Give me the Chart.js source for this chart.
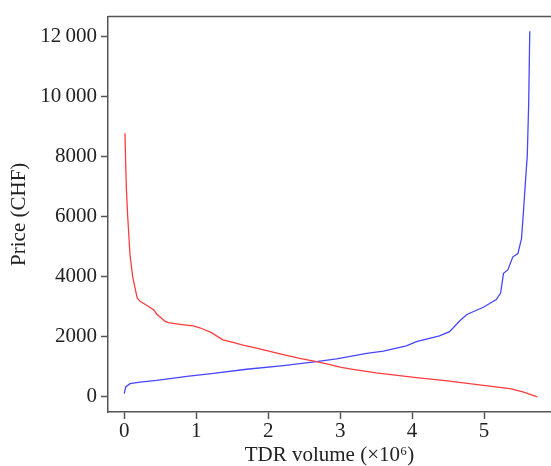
<!DOCTYPE html>
<html>
<head>
<meta charset="utf-8">
<script src="https://cdn.jsdelivr.net/npm/chart.js@4/dist/chart.umd.min.js"></script>
<style>
  html, body { margin: 0; padding: 0; background: #fff; }
  #wrap { width: 551px; height: 466px; }
</style>
</head>
<body>
<div id="wrap"><canvas id="priceChart"></canvas></div>
<script>
// Data
const sellX = [0.01, 0.02, 0.03, 0.047, 0.08, 0.117, 0.15, 0.18, 0.22, 0.31, 0.41, 0.45, 0.565, 0.61, 0.775, 0.96, 1.05, 1.21, 1.37, 1.51, 1.65, 1.84, 1.98, 2.21, 2.44, 2.67, 2.86, 3.0, 3.13, 3.5, 4.06, 4.52, 4.99, 5.36, 5.54, 5.74];
const sellY = [8770, 7700, 6900, 6030, 4720, 4000, 3620, 3290, 3180, 3050, 2895, 2760, 2520, 2470, 2415, 2360, 2300, 2140, 1900, 1810, 1720, 1625, 1536, 1405, 1283, 1174, 1076, 987, 934, 802, 638, 526, 385, 276, 164, 0];

const buyX = [0, 0.02, 0.08, 0.22, 0.45, 0.87, 1.24, 1.7, 2.21, 2.67, 2.95, 3.37, 3.6, 3.92, 4.06, 4.38, 4.52, 4.66, 4.76, 4.99, 5.17, 5.23, 5.27, 5.33, 5.40, 5.47, 5.52, 5.55, 5.58, 5.60, 5.62, 5.635];
const buyY = [112, 330, 440, 494, 550, 680, 780, 920, 1043, 1174, 1263, 1447, 1526, 1700, 1842, 2030, 2171, 2523, 2743, 2983, 3237, 3454, 4112, 4224, 4661, 4770, 5263, 6250, 7349, 8007, 9760, 12171];

const xTicks = [0, 1, 2, 3, 4, 5];
const yTicks = [0, 2000, 4000, 6000, 8000, 10000, 12000];

const axisColor = '#555';
const textColor = '#222';
const serif = 'Liberation Serif, Times New Roman, serif';

function toPoints(xs, ys) {
    return xs.map((x, i) => ({ x: x, y: ys[i] }));
}

function formatPrice(v) {
    if (v >= 10000) {
        const s = String(v);
        return s.slice(0, s.length - 3) + '\u2009' + s.slice(-3);
    }
    return String(v);
}

// top border of the plot box
const topBorder = {
    id: 'topBorder',
    afterDraw(chart) {
        const { ctx, chartArea } = chart;
        ctx.save();
        ctx.strokeStyle = axisColor;
        ctx.lineWidth = 1.5;
        ctx.beginPath();
        ctx.moveTo(chartArea.left, chartArea.top);
        ctx.lineTo(chartArea.right, chartArea.top);
        ctx.stroke();
        ctx.restore();
    }
};

const ctx = document.getElementById('priceChart').getContext('2d');
new Chart(ctx, {
    type: 'scatter',
    data: {
        datasets: [{
            data: toPoints(sellX, sellY),
            showLine: true,
            borderColor: 'rgb(255, 60, 60)',
            borderWidth: 1.3,
            pointRadius: 0,
            tension: 0
        }, {
            data: toPoints(buyX, buyY),
            showLine: true,
            borderColor: 'rgb(70, 70, 255)',
            borderWidth: 1.3,
            pointRadius: 0,
            tension: 0
        }]
    },
    options: {
        responsive: true,
        maintainAspectRatio: false,
        animation: false,
        layout: { padding: { top: 12, right: 0, left: 0, bottom: 0 } },
        plugins: {
            legend: { display: false },
            tooltip: { enabled: false }
        },
        scales: {
            x: {
                type: 'linear',
                min: -0.226,
                max: 5.93,
                afterFit: scale => { scale.height = 54; },
                afterBuildTicks: scale => { scale.ticks = xTicks.map(v => ({ value: v })); },
                grid: { drawOnChartArea: false, drawTicks: true, tickLength: 7, tickWidth: 1.5, color: axisColor },
                border: { display: true, color: axisColor, width: 1.5 },
                ticks: {
                    color: textColor,
                    font: { family: serif, size: 21, lineHeight: 1 },
                    padding: 2,
                    maxRotation: 0
                },
                title: {
                    display: true,
                    text: 'TDR volume (\u00d710\u2076)',
                    color: textColor,
                    font: { family: serif, size: 21, lineHeight: 1 },
                    padding: 0
                }
            },
            y: {
                type: 'linear',
                min: -503,
                max: 12655,
                afterFit: scale => { scale.width = 108; },
                afterBuildTicks: scale => { scale.ticks = yTicks.map(v => ({ value: v })); },
                grid: { drawOnChartArea: false, drawTicks: true, tickLength: 7, tickWidth: 1.5, color: axisColor },
                border: { display: true, color: axisColor, width: 1.5 },
                ticks: {
                    color: textColor,
                    font: { family: serif, size: 21 },
                    padding: 4,
                    callback: v => formatPrice(v)
                },
                title: {
                    display: true,
                    text: 'Price (CHF)',
                    color: textColor,
                    font: { family: serif, size: 21, lineHeight: 1 },
                    padding: { top: 8.5, bottom: 0 }
                }
            }
        }
    },
    plugins: [topBorder]
});
</script>
</body>
</html>
